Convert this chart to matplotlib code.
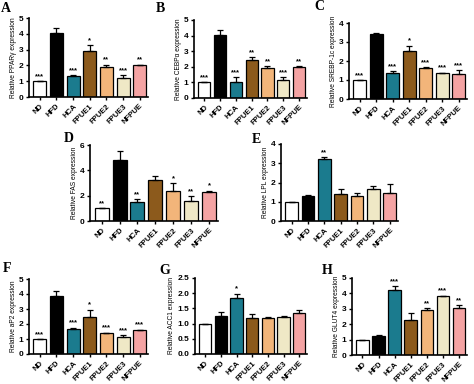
import matplotlib
matplotlib.use("Agg")
import matplotlib.pyplot as plt
import numpy as np

plt.rcParams['font.family'] = ['Liberation Sans', 'DejaVu Sans']

groups = ["ND", "HFD", "HCA", "FPUE1", "FPUE2", "FPUE3", "NFPUE"]
colors = ["#ffffff", "#000000", "#1b7b8e", "#8c5a1c", "#f2b57a", "#efe8c6", "#f4a3a3"]

ppar_vals = [1.0, 4.05, 1.32, 2.92, 1.9, 1.18, 2.0]
ppar_err = [0.0, 0.3, 0.05, 0.35, 0.15, 0.2, 0.05]
ppar_sig = ["***", "", "***", "*", "**", "***", "**"]

cebp_vals = [1.0, 4.05, 1.0, 2.45, 1.9, 1.15, 2.0]
cebp_err = [0.0, 0.3, 0.35, 0.15, 0.15, 0.2, 0.05]
cebp_sig = ["***", "", "***", "**", "**", "***", "**"]

srebp_vals = [1.0, 3.42, 1.38, 2.55, 1.65, 1.35, 1.32]
srebp_err = [0.0, 0.03, 0.1, 0.25, 0.03, 0.03, 0.2]
srebp_sig = ["***", "", "***", "*", "***", "***", "***"]

fas_vals = [1.0, 4.8, 1.5, 3.2, 2.4, 1.6, 2.3]
fas_err = [0.0, 0.7, 0.2, 0.35, 0.6, 0.35, 0.1]
fas_sig = ["**", "", "**", "", "*", "**", "*"]

lpl_vals = [1.0, 1.32, 3.22, 1.38, 1.28, 1.65, 1.48]
lpl_err = [0.0, 0.03, 0.1, 0.3, 0.15, 0.15, 0.45]
lpl_sig = ["", "", "**", "", "", "", ""]

ap2_vals = [1.0, 3.88, 1.7, 2.5, 1.4, 1.15, 1.6]
ap2_err = [0.0, 0.35, 0.05, 0.45, 0.03, 0.1, 0.03]
ap2_sig = ["***", "", "***", "*", "***", "***", "***"]

acc_vals = [1.0, 1.25, 1.85, 1.17, 1.2, 1.22, 1.35]
acc_err = [0.0, 0.12, 0.13, 0.14, 0.02, 0.04, 0.1]
acc_sig = ["", "", "*", "", "", "", ""]

glut_vals = [1.0, 1.25, 4.25, 2.25, 2.93, 3.8, 3.05]
glut_err = [0.0, 0.08, 0.2, 0.5, 0.1, 0.05, 0.2]
glut_sig = ["", "", "***", "", "**", "***", "**"]

W, H = 474, 384
fig = plt.figure(figsize=(W / 100, H / 100), dpi=100)

panels = [
    ("A", "Relative PPAR\u03b3 expression", ppar_vals, ppar_err, ppar_sig, 5, [0, 1, 2, 3, 4, 5], None, (29, 148, 18, 97), (1, 8)),
    ("B", "Relative CEBP\u03b1 expression", cebp_vals, cebp_err, cebp_sig, 5, [0, 1, 2, 3, 4, 5], None, (194, 307, 20, 98), (156, 8)),
    ("C", "Relative SREBP-1c expression", srebp_vals, srebp_err, srebp_sig, 4, [0, 1, 2, 3, 4], None, (349, 467, 23, 99), (314, 7)),
    ("D", "Relative FAS expression", fas_vals, fas_err, fas_sig, 6, [0, 2, 4, 6], None, (90, 218, 145, 221), (64, 138)),
    ("E", "Relative LPL expression", lpl_vals, lpl_err, lpl_sig, 4, [0, 1, 2, 3, 4], None, (281, 398, 144, 221), (252, 139)),
    ("F", "Relative aP2 expression", ap2_vals, ap2_err, ap2_sig, 5, [0, 1, 2, 3, 4, 5], None, (29, 148, 279, 354), (3, 269)),
    ("G", "Relative ACC1 expression", acc_vals, acc_err, acc_sig, 2.5, [0, 0.5, 1.0, 1.5, 2.0, 2.5], ["0.0", "0.5", "1.0", "1.5", "2.0", "2.5"], (195, 307, 278, 354), (159, 271)),
    ("H", "Relative GLUT4 expression", glut_vals, glut_err, glut_sig, 5, [0, 1, 2, 3, 4, 5], None, (352, 467, 278, 355), (322, 271)),
]

x = np.arange(len(groups))
for letter, ylabel, vals, err, sig, ymax, yticks, ytl, (l, r, t, b), (lx, ly) in panels:
    ax = fig.add_axes([l / W, 1 - b / H, (r - l) / W, (b - t) / H])
    ax.bar(x, vals, width=0.78, color=colors, edgecolor="black", linewidth=0.9, zorder=2)
    ax.errorbar(x, vals, yerr=[np.zeros(len(err)), err], fmt="none", ecolor="black",
                elinewidth=0.9, capsize=2.2, capthick=0.9, zorder=3)
    for xi, v, e, s in zip(x, vals, err, sig):
        if s:
            ax.text(xi, v + e + ymax * 0.015, s, ha="center", va="bottom", fontsize=5.5,
                    fontweight="bold", zorder=4)
    ax.set_xlim(-0.65, 6.5)
    ax.set_ylim(0, ymax)
    ax.set_yticks(yticks)
    if ytl:
        ax.set_yticklabels(ytl)
    ax.set_xticks(x)
    ax.set_xticklabels(groups, rotation=45, ha="right", rotation_mode="anchor",
                       fontsize=5.5, fontweight="bold")
    for lab in ax.get_yticklabels():
        lab.set_fontsize(6)
        lab.set_fontweight("bold")
    ax.spines["top"].set_visible(False)
    ax.spines["right"].set_visible(False)
    ax.spines["left"].set_linewidth(1.2)
    ax.spines["bottom"].set_linewidth(1.2)
    ax.tick_params(axis="both", width=1.0, length=2.5, pad=1.5)
    ax.set_ylabel(ylabel, fontsize=4.8, labelpad=1.5)
    ax.set_facecolor("none")
    fig.text(lx / W, 1 - ly / H, letter, fontsize=10, fontweight="bold",
             family=["Liberation Serif", "DejaVu Serif"], va="center", ha="left")

fig.savefig("out.png", dpi=100, facecolor="white")
